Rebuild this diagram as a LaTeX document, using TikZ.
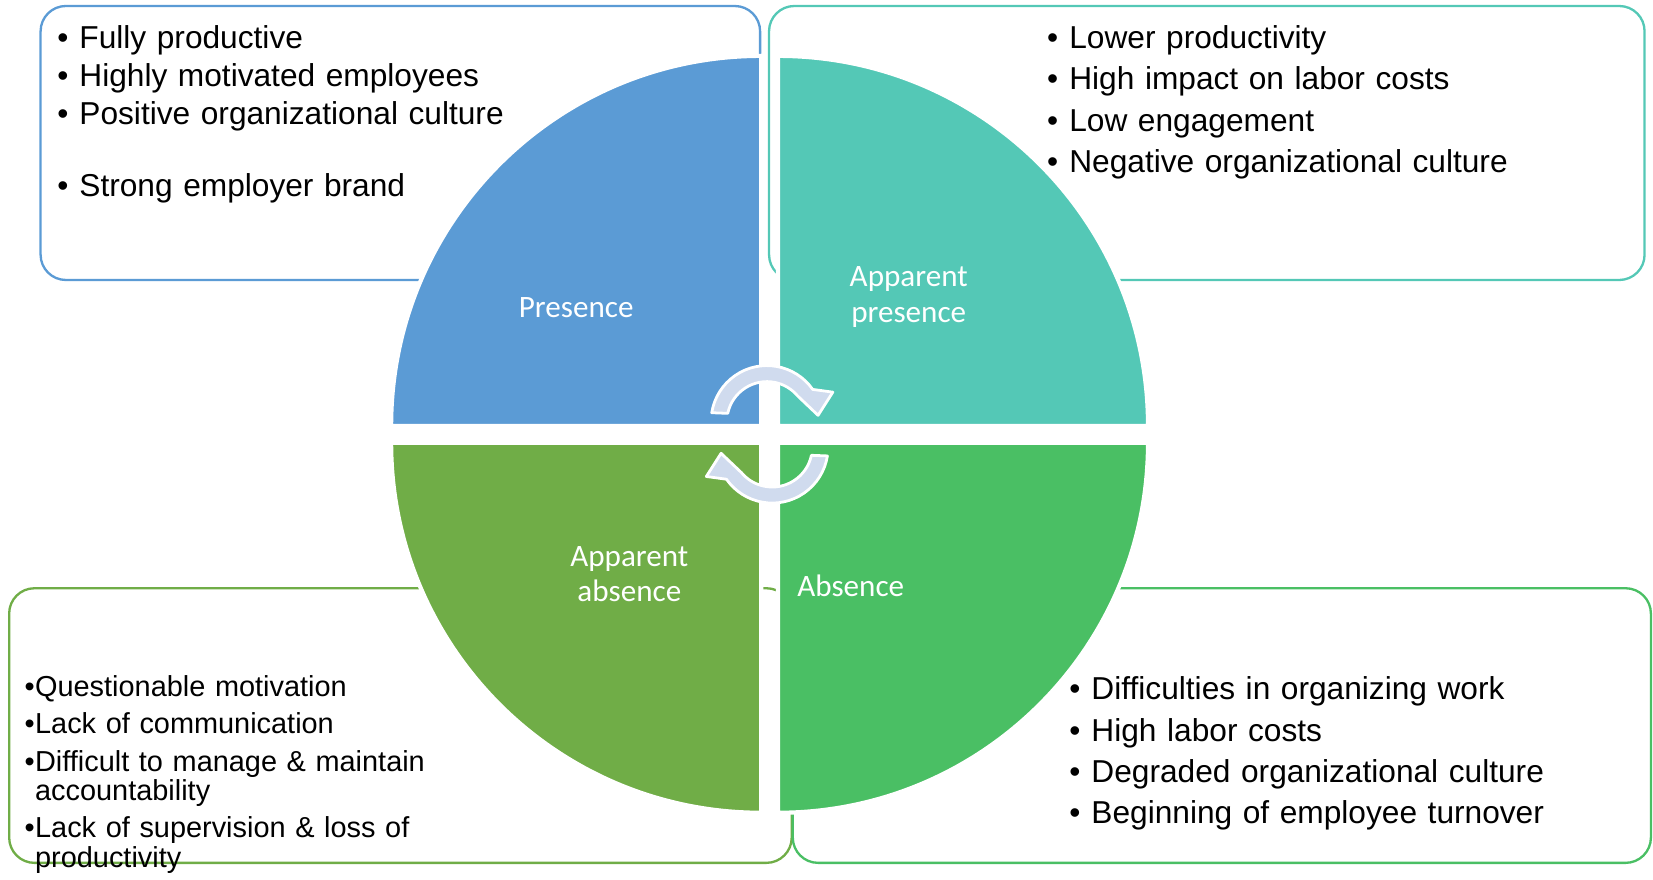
\documentclass[tikz,border=0pt]{standalone}
\usepackage{fontspec}
\setmainfont{Liberation Sans}
\newfontfamily\quadfont{Carlito}
\usepackage{tikz}
\usetikzlibrary{positioning}

\definecolor{presblue}{HTML}{5B9BD5}
\definecolor{appteal}{HTML}{54C8B6}
\definecolor{aabgreen}{HTML}{70AD47}
\definecolor{absgreen}{HTML}{4ABF64}
\definecolor{cyclefill}{HTML}{D0DBEE}

\newcommand{\bitem}{\makebox[0.42cm][l]{\textbullet}}
\newcommand{\sitem}{\makebox[0.2cm][l]{\textbullet}}

\tikzset{%
    infobox/.style={rounded corners=0.48cm, line width=1.25pt},
    quarter/.style={draw=white, line width=0.08cm},
    cycarrow/.style={fill=cyclefill, draw=white, line width=1.5pt, line join=round},
    listtext/.style={anchor=base west, inner sep=0pt, text width=12cm, align=left,
        font=\fontsize{17.1}{20.7}\selectfont},
    qlabel/.style={anchor=base, inner sep=0pt, text width=4cm, align=center, text=white,
        font=\quadfont\fontsize{16.8}{19.3}\selectfont},
}

\begin{document}
\begin{tikzpicture}[x=0.02cm, y=0.02cm]
    \useasboundingbox (0,0) rectangle (1568,834);
    % boxes behind the circle
    \draw[infobox, draw=presblue] (38.5,568.4) rectangle (721,828.3);
    \draw[infobox, draw=appteal] (729.5,568.4) rectangle (1560,828.3);
    \draw[infobox, draw=aabgreen] (8.7,15.5) rectangle (751,276);
    \draw[infobox, draw=absgreen] (752,15.5) rectangle (1566,276);
    % quarters
    \draw[quarter, fill=presblue] (722,430) -- (371,430) arc[start angle=180, end angle=90, radius=351] -- cycle;
    \draw[quarter, fill=appteal] (738,430) -- (738,781) arc[start angle=90, end angle=0, radius=351] -- cycle;
    \draw[quarter, fill=aabgreen] (722,414) -- (722,63) arc[start angle=270, end angle=180, radius=351] -- cycle;
    \draw[quarter, fill=absgreen] (738,414) -- (1089,414) arc[start angle=0, end angle=-90, radius=351] -- cycle;
    % cycle arrows
    \foreach \r in {0,180} {
        \draw[cycarrow, shift={(730,422)}, rotate=\r] (-39.67,19.9) arc[start angle=168, end angle=40, radius=38]
            -- (46,18) -- (60,40) -- (40.9,42.6) arc[start angle=35, end angle=171, radius=53] -- cycle;
    }
    \node[qlabel] (pres) at (546.5,533) {Presence};
    \node[qlabel] (apppres) at (862,562) {Apparent\\presence};
    \node[qlabel] (appabs) at (597,297) {Apparent\\absence};
    \node[qlabel] (abs) at (807,268.6) {Absence};
    % lists
    \node[listtext] (presitems) at (54,788.2) {\bitem Fully productive\\
        \bitem Highly motivated employees\\
        \bitem Positive organizational culture\\[0.632cm]
        \bitem Strong employer brand};
    \node[listtext, font=\fontsize{17.1}{22.4}\selectfont] (appitems) at (993,788) {\bitem Lower productivity\\
        \bitem High impact on labor costs\\
        \bitem Low engagement\\
        \bitem Negative organizational culture};
    \node[listtext, font=\fontsize{17.1}{22.2}\selectfont] (absitems) at (1014,170) {\bitem Difficulties in organizing work\\
        \bitem High labor costs\\
        \bitem Degraded organizational culture\\
        \bitem Beginning of employee turnover};
    \node[listtext, font=\fontsize{15.6}{15.8}\selectfont] (aabitems) at (23,173.5) {\sitem Questionable motivation\\[4.4pt]
        \sitem Lack of communication\\[4.4pt]
        \sitem Difficult to manage \& maintain\\
        \hspace*{0.2cm}accountability\\[4.4pt]
        \sitem Lack of supervision \& loss of\\
        \hspace*{0.2cm}productivity};
\end{tikzpicture}
\end{document}
